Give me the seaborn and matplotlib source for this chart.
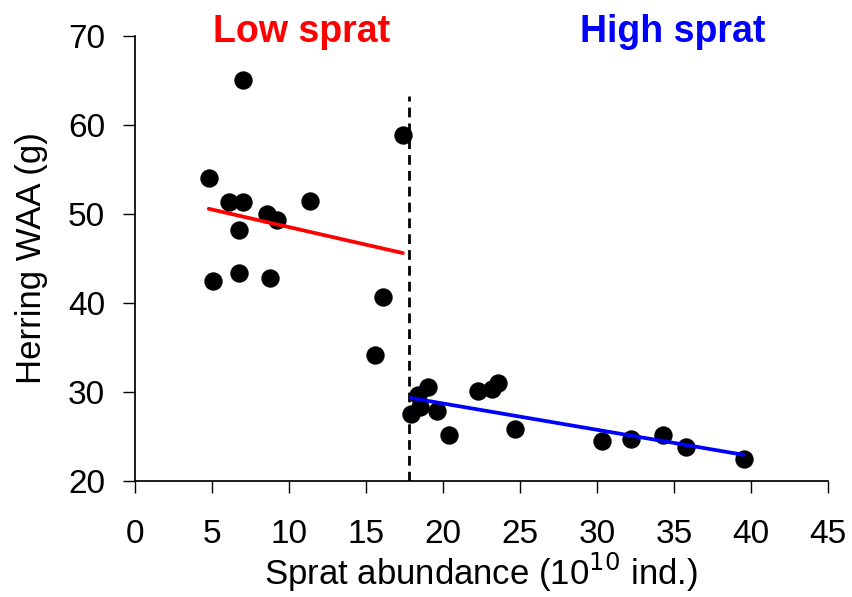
import matplotlib
matplotlib.use("Agg")
import matplotlib.pyplot as plt
import numpy as np
import pandas as pd
import seaborn as sns

# low sprat period
low_x = [4.8, 7.0, 6.1, 7.0, 6.75, 5.1, 6.75, 8.6, 9.2, 8.8, 11.4, 17.4, 16.1, 15.6]
low_y = [54.0, 65.0, 51.3, 51.3, 48.2, 42.5, 43.4, 50.0, 49.3, 42.8, 51.5, 58.9, 40.7, 34.2]

# high sprat period
high_x = [17.9, 18.4, 19.0, 18.5, 19.6, 20.4, 22.3, 23.2, 23.6, 24.7, 30.3, 32.2, 34.3, 35.8, 39.5]
high_y = [27.5, 29.7, 30.6, 28.3, 27.9, 25.2, 30.1, 30.4, 31.0, 25.9, 24.5, 24.7, 25.2, 23.8, 22.5]

breakpoint_x = 17.8
breakpoint_top = 63.2

low = pd.DataFrame({"sprat": low_x, "waa": low_y})
high = pd.DataFrame({"sprat": high_x, "waa": high_y})

sns.set_theme(style="ticks")
plt.rcParams["font.family"] = ["Liberation Sans", "DejaVu Sans"]
plt.rcParams.update({
    "text.color": "black",
    "axes.labelcolor": "black",
    "xtick.color": "black",
    "ytick.color": "black",
    "axes.edgecolor": "black",
})

fig, ax = plt.subplots(figsize=(8.53, 5.97), dpi=100)
fig.subplots_adjust(left=0.158, right=0.971, top=0.94, bottom=0.194)

ax.vlines(breakpoint_x, 20, breakpoint_top, colors="black", linestyles=(0, (3.5, 2.2)),
          linewidth=2.0, zorder=1)

dots = {"s": 175, "color": "black", "linewidths": 0, "alpha": 1, "zorder": 2}
sns.regplot(data=low, x="sprat", y="waa", ci=None, ax=ax, scatter_kws=dots,
            line_kws={"color": "red", "linewidth": 2.7, "zorder": 3})
sns.regplot(data=high, x="sprat", y="waa", ci=None, ax=ax, scatter_kws=dots,
            line_kws={"color": "blue", "linewidth": 2.7, "zorder": 3})

ax.set_xlim(0, 45)
ax.set_ylim(20, 70)
ax.set_xticks(np.arange(0, 46, 5))
ax.set_yticks(np.arange(20, 71, 10))
ax.tick_params(axis="both", labelsize=24, length=8.5, width=1)
ax.tick_params(axis="x", pad=19)
ax.tick_params(axis="y", pad=13)
sns.despine(ax=ax)

ax.set_xlabel("Sprat abundance (10$^{10}$ ind.)", fontsize=25, labelpad=0)
ax.set_ylabel("Herring WAA (g)", fontsize=25, labelpad=14)

ax.text(10.8, 69.3, "Low sprat", color="red", fontsize=27, fontweight="bold",
        ha="center", va="baseline", clip_on=False)
ax.text(34.9, 69.3, "High sprat", color="blue", fontsize=27, fontweight="bold",
        ha="center", va="baseline", clip_on=False)

fig.savefig("out.png", dpi=100)
